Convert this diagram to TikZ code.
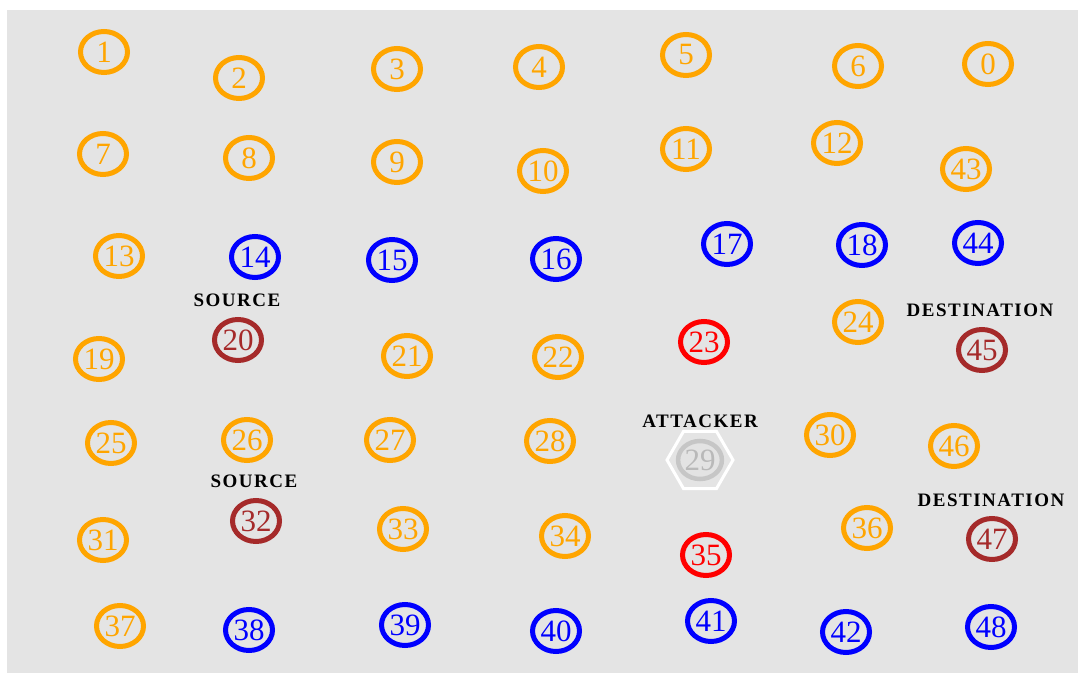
\documentclass[tikz,border=0pt]{standalone}
\usepackage{fontspec}
\setmainfont{Liberation Serif}
\newfontfamily\tagfont[LetterSpace=8]{Liberation Serif}
\usetikzlibrary{shapes.geometric}
\definecolor{bg}{HTML}{E4E4E4}
\definecolor{cor}{HTML}{FFA500}
\definecolor{cbl}{HTML}{0000FF}
\definecolor{crd}{HTML}{FF0000}
\definecolor{cbr}{HTML}{A52A2A}
\tikzset{
  nd/.style={ellipse, draw=#1, text=#1, line width=5pt, minimum width=47pt, minimum height=41pt, inner sep=0pt,
    font=\fontsize{31}{31}\selectfont},
  tag/.style={font=\tagfont\bfseries\fontsize{19}{19}\selectfont, text=black, inner sep=0pt}
}
\begin{document}
\begin{tikzpicture}[x=1pt,y=1pt]
\useasboundingbox (0,0) rectangle (1078,675);
\fill[bg] (7,2) rectangle (1078,665);
\foreach \n/\x/\y/\c in {
 1/104/52/cor, 2/239/78/cor, 3/397/69/cor, 4/539/67/cor, 5/686/55/cor, 6/858/66/cor, 0/988/64/cor,
 7/103/154/cor, 8/249/158/cor, 9/397/162/cor, 10/543/171/cor, 11/686/149/cor, 12/837/143/cor, 43/966/169/cor,
 13/119/256/cor, 14/255/257/cbl, 15/392/260/cbl, 16/556/259/cbl, 17/727/244/cbl, 18/862/245/cbl, 44/978/243/cbl,
 19/99/359/cor, 20/238/340/cbr, 21/407/356/cor, 22/558/357/cor, 23/704/342/crd, 24/858/322/cor, 45/982/350/cbr,
 25/111/443/cor, 26/247/440/cor, 27/390/440/cor, 28/550/441/cor, 30/830/435/cor, 46/954/446/cor,
 31/103/540/cor, 32/256/521/cbr, 33/403/529/cor, 34/565/536/cor, 35/706/555/crd, 36/867/528/cor, 47/992/539/cbr,
 37/120/626/cor, 38/249/630/cbl, 39/405/625/cbl, 40/556/631/cbl, 41/711/621/cbl, 42/846/632/cbl, 48/991/627/cbl}
 { \node[nd=\c] (n\n) at (\x,675-\y) {\n}; }
% attacker
\node[regular polygon, regular polygon sides=6, draw=white, line width=3pt, minimum size=66pt, inner sep=0pt] (hex) at (700,215) {};
\node[ellipse, draw=gray!45, fill=gray!22, text=gray!55, line width=4.5pt, minimum width=42pt, minimum height=38pt, inner sep=0pt,
  font=\fontsize{31}{31}\selectfont] (n29) at (700,215) {29};
\node[tag] (tsrc1) at (237,375) {SOURCE};
\node[tag] (tsrc2) at (254,194) {SOURCE};
\node[tag] (tdst1) at (980,365) {DESTINATION};
\node[tag] (tdst2) at (991,175) {DESTINATION};
\node[tag] (tatt) at (700,254) {ATTACKER};
\end{tikzpicture}
\end{document}
